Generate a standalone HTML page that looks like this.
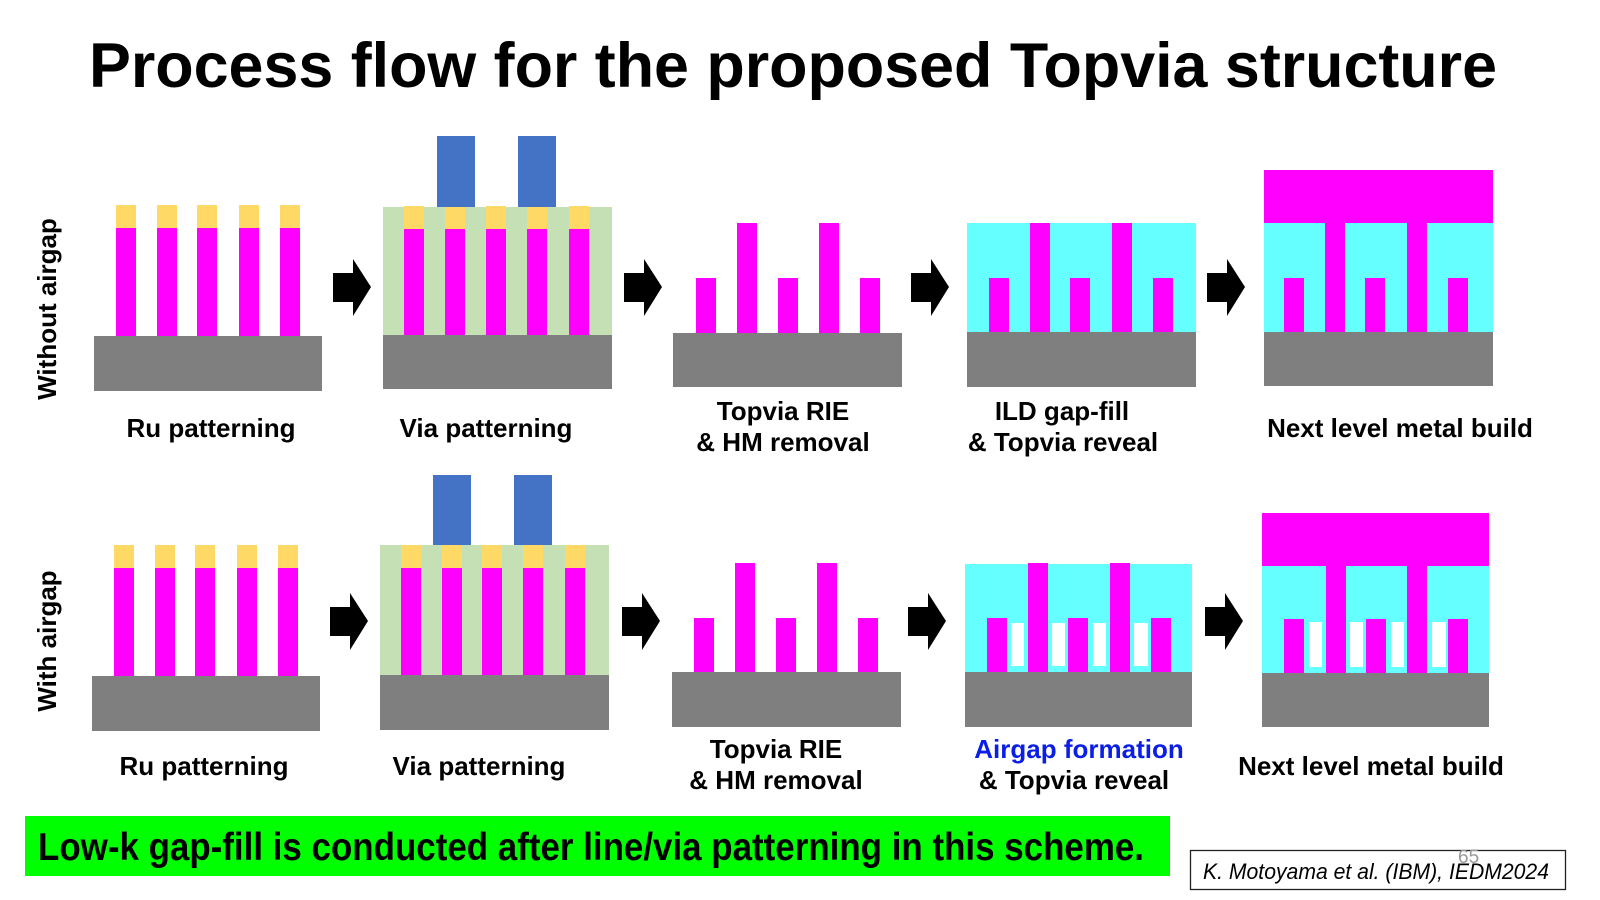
<!DOCTYPE html>
<html>
<head>
<meta charset="utf-8">
<style>
  html,body{margin:0;padding:0;background:#fff;}
  svg{display:block;}
  text{font-family:"Liberation Sans", Arial, sans-serif;}
</style>
</head>
<body>
<svg width="1600" height="900" viewBox="0 0 1600 900" xmlns="http://www.w3.org/2000/svg">
  <rect x="0" y="0" width="1600" height="900" fill="#ffffff"/>

  <!-- Title -->
  <text x="89" y="87" font-size="63" font-weight="bold" fill="#000" textLength="1408" lengthAdjust="spacingAndGlyphs">Process flow for the proposed Topvia structure</text>

  <!-- Row side labels -->
  <text transform="translate(56,309) rotate(-90)" text-anchor="middle" font-size="26" font-weight="bold" fill="#000">Without airgap</text>
  <text transform="translate(56,641) rotate(-90)" text-anchor="middle" font-size="26" font-weight="bold" fill="#000">With airgap</text>

  <!-- ================= ROW 1 ================= -->
  <!-- Panel 1 -->
  <g>
    <rect x="94" y="336" width="228" height="55" fill="#7f7f7f"/>
    <g fill="#ffd966">
      <rect x="116" y="205" width="20" height="23"/>
      <rect x="157" y="205" width="20" height="23"/>
      <rect x="197" y="205" width="20" height="23"/>
      <rect x="239" y="205" width="20" height="23"/>
      <rect x="280" y="205" width="20" height="23"/>
    </g>
    <g fill="#ff00ff">
      <rect x="116" y="228" width="20" height="108"/>
      <rect x="157" y="228" width="20" height="108"/>
      <rect x="197" y="228" width="20" height="108"/>
      <rect x="239" y="228" width="20" height="108"/>
      <rect x="280" y="228" width="20" height="108"/>
    </g>
  </g>

  <!-- Panel 2 -->
  <g>
    <rect x="383" y="207" width="229" height="128" fill="#c5e0b4"/>
    <rect x="383" y="335" width="229" height="54" fill="#7f7f7f"/>
    <g fill="#ffd966">
      <rect x="404" y="206" width="20" height="23"/>
      <rect x="445" y="206" width="20" height="23"/>
      <rect x="486" y="206" width="20" height="23"/>
      <rect x="527" y="206" width="20" height="23"/>
      <rect x="569" y="206" width="20" height="23"/>
    </g>
    <g fill="#ff00ff">
      <rect x="404" y="229" width="20" height="106"/>
      <rect x="445" y="229" width="20" height="106"/>
      <rect x="486" y="229" width="20" height="106"/>
      <rect x="527" y="229" width="20" height="106"/>
      <rect x="569" y="229" width="20" height="106"/>
    </g>
    <rect x="437" y="136" width="38" height="71" fill="#4472c4"/>
    <rect x="518" y="136" width="38" height="71" fill="#4472c4"/>
  </g>

  <!-- Panel 3 -->
  <g>
    <rect x="673" y="333" width="229" height="54" fill="#7f7f7f"/>
    <g fill="#ff00ff">
      <rect x="696" y="278" width="20" height="55"/>
      <rect x="737" y="223" width="20" height="110"/>
      <rect x="778" y="278" width="20" height="55"/>
      <rect x="819" y="223" width="20" height="110"/>
      <rect x="860" y="278" width="20" height="55"/>
    </g>
  </g>

  <!-- Panel 4 -->
  <g>
    <rect x="967" y="223" width="229" height="109" fill="#66ffff"/>
    <rect x="967" y="332" width="229" height="55" fill="#7f7f7f"/>
    <g fill="#ff00ff">
      <rect x="989" y="278" width="20" height="54"/>
      <rect x="1030" y="223" width="20" height="109"/>
      <rect x="1070" y="278" width="20" height="54"/>
      <rect x="1112" y="223" width="20" height="109"/>
      <rect x="1153" y="278" width="20" height="54"/>
    </g>
  </g>

  <!-- Panel 5 -->
  <g>
    <rect x="1264" y="170" width="229" height="53" fill="#ff00ff"/>
    <rect x="1264" y="223" width="229" height="109" fill="#66ffff"/>
    <rect x="1264" y="332" width="229" height="54" fill="#7f7f7f"/>
    <g fill="#ff00ff">
      <rect x="1325" y="223" width="20" height="109"/>
      <rect x="1407" y="223" width="20" height="109"/>
      <rect x="1284" y="278" width="20" height="54"/>
      <rect x="1365" y="278" width="20" height="54"/>
      <rect x="1448" y="278" width="20" height="54"/>
    </g>
  </g>

  <!-- Row 1 arrows -->
  <g fill="#000">
    <polygon points="333,273 353,273 353,259 371,287 353,316 353,302 333,302"/>
    <polygon points="624,273 644,273 644,259 662,287 644,316 644,302 624,302"/>
    <polygon points="911,273 931,273 931,259 949,287 931,316 931,302 911,302"/>
    <polygon points="1207,273 1227,273 1227,259 1245,287 1227,316 1227,302 1207,302"/>
  </g>

  <!-- Row 1 labels -->
  <g font-size="26" font-weight="bold" fill="#000" text-anchor="middle">
    <text x="211" y="437">Ru patterning</text>
    <text x="486" y="437">Via patterning</text>
    <text x="783" y="420">Topvia RIE</text>
    <text x="783" y="451">&amp; HM removal</text>
    <text x="1062" y="420">ILD gap-fill</text>
    <text x="1063" y="451">&amp; Topvia reveal</text>
    <text x="1400" y="437">Next level metal build</text>
  </g>

  <!-- ================= ROW 2 ================= -->
  <!-- Panel 1 -->
  <g>
    <rect x="92" y="676" width="228" height="55" fill="#7f7f7f"/>
    <g fill="#ffd966">
      <rect x="114" y="545" width="20" height="23"/>
      <rect x="155" y="545" width="20" height="23"/>
      <rect x="195" y="545" width="20" height="23"/>
      <rect x="237" y="545" width="20" height="23"/>
      <rect x="278" y="545" width="20" height="23"/>
    </g>
    <g fill="#ff00ff">
      <rect x="114" y="568" width="20" height="108"/>
      <rect x="155" y="568" width="20" height="108"/>
      <rect x="195" y="568" width="20" height="108"/>
      <rect x="237" y="568" width="20" height="108"/>
      <rect x="278" y="568" width="20" height="108"/>
    </g>
  </g>

  <!-- Panel 2 -->
  <g>
    <rect x="380" y="545" width="229" height="130" fill="#c5e0b4"/>
    <rect x="380" y="675" width="229" height="55" fill="#7f7f7f"/>
    <g fill="#ffd966">
      <rect x="401" y="545" width="20" height="23"/>
      <rect x="442" y="545" width="20" height="23"/>
      <rect x="482" y="545" width="20" height="23"/>
      <rect x="523" y="545" width="20" height="23"/>
      <rect x="565" y="545" width="20" height="23"/>
    </g>
    <g fill="#ff00ff">
      <rect x="401" y="568" width="20" height="107"/>
      <rect x="442" y="568" width="20" height="107"/>
      <rect x="482" y="568" width="20" height="107"/>
      <rect x="523" y="568" width="20" height="107"/>
      <rect x="565" y="568" width="20" height="107"/>
    </g>
    <rect x="433" y="475" width="38" height="70" fill="#4472c4"/>
    <rect x="514" y="475" width="38" height="70" fill="#4472c4"/>
  </g>

  <!-- Panel 3 -->
  <g>
    <rect x="672" y="672" width="229" height="55" fill="#7f7f7f"/>
    <g fill="#ff00ff">
      <rect x="694" y="618" width="20" height="54"/>
      <rect x="735" y="563" width="20" height="109"/>
      <rect x="776" y="618" width="20" height="54"/>
      <rect x="817" y="563" width="20" height="109"/>
      <rect x="858" y="618" width="20" height="54"/>
    </g>
  </g>

  <!-- Panel 4 -->
  <g>
    <rect x="965" y="564" width="227" height="108" fill="#66ffff"/>
    <rect x="965" y="672" width="227" height="55" fill="#7f7f7f"/>
    <g fill="#ff00ff">
      <rect x="987" y="618" width="20" height="54"/>
      <rect x="1028" y="563" width="20" height="109"/>
      <rect x="1068" y="618" width="20" height="54"/>
      <rect x="1110" y="563" width="20" height="109"/>
      <rect x="1151" y="618" width="20" height="54"/>
    </g>
    <g fill="#ffffff">
      <rect x="1011" y="623" width="13" height="43"/>
      <rect x="1052" y="623" width="13" height="43"/>
      <rect x="1093" y="623" width="13" height="43"/>
      <rect x="1134" y="623" width="14" height="43"/>
    </g>
  </g>

  <!-- Panel 5 -->
  <g>
    <rect x="1262" y="513" width="227" height="53" fill="#ff00ff"/>
    <rect x="1262" y="566" width="227" height="107" fill="#66ffff"/>
    <rect x="1262" y="673" width="227" height="54" fill="#7f7f7f"/>
    <g fill="#ff00ff">
      <rect x="1326" y="566" width="20" height="107"/>
      <rect x="1407" y="566" width="20" height="107"/>
      <rect x="1284" y="619" width="20" height="54"/>
      <rect x="1366" y="619" width="20" height="54"/>
      <rect x="1448" y="619" width="20" height="54"/>
    </g>
    <g fill="#ffffff">
      <rect x="1309" y="622" width="13" height="45"/>
      <rect x="1350" y="622" width="13" height="45"/>
      <rect x="1391" y="622" width="13" height="45"/>
      <rect x="1432" y="622" width="14" height="45"/>
    </g>
  </g>

  <!-- Row 2 arrows -->
  <g fill="#000">
    <polygon points="330,607 350,607 350,593 368,621 350,650 350,636 330,636"/>
    <polygon points="622,607 642,607 642,593 660,621 642,650 642,636 622,636"/>
    <polygon points="908,607 928,607 928,593 946,621 928,650 928,636 908,636"/>
    <polygon points="1205,607 1225,607 1225,593 1243,621 1225,650 1225,636 1205,636"/>
  </g>

  <!-- Row 2 labels -->
  <g font-size="26" font-weight="bold" fill="#000" text-anchor="middle">
    <text x="204" y="775">Ru patterning</text>
    <text x="479" y="775">Via patterning</text>
    <text x="776" y="758">Topvia RIE</text>
    <text x="776" y="789">&amp; HM removal</text>
    <text x="1079" y="758" fill="#0a1ee6">Airgap formation</text>
    <text x="1074" y="789">&amp; Topvia reveal</text>
    <text x="1371" y="775">Next level metal build</text>
  </g>

  <!-- Green banner -->
  <rect x="25" y="816" width="1145" height="60" fill="#00ff00"/>
  <text x="38" y="860" font-size="39" font-weight="bold" fill="#000" textLength="1106" lengthAdjust="spacingAndGlyphs">Low-k gap-fill is conducted after line/via patterning in this scheme.</text>

  <!-- Citation box -->
  <rect x="1190.5" y="850.5" width="375" height="39" fill="#ffffff" stroke="#222" stroke-width="1.3"/>
  <text x="1458" y="863" font-size="19" fill="#9a9a9a">65</text>
  <text x="1203" y="879" font-size="22" font-style="italic" fill="#000" textLength="346" lengthAdjust="spacingAndGlyphs">K. Motoyama et al. (IBM), IEDM2024</text>
</svg>
</body>
</html>
